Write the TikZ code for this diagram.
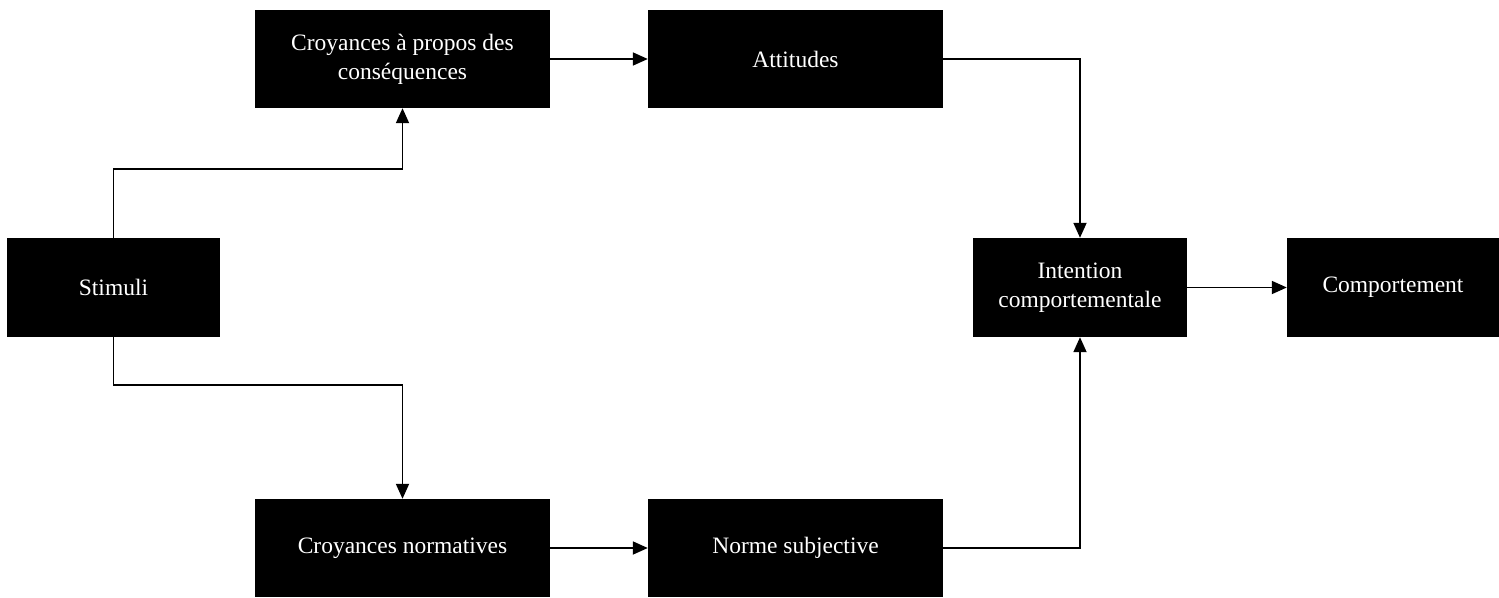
\documentclass[tikz,border=0pt]{standalone}
\usepackage{fontspec}
\setmainfont{Liberation Serif}
\usetikzlibrary{arrows.meta}
\begin{document}
\begin{tikzpicture}[x=1pt,y=-1pt,
  box/.style={rectangle, fill=black, draw=none, text=white, align=center,
    inner sep=0pt, font=\fontsize{23.5}{29}\selectfont},
  conn/.style={draw=black, line width=1.8pt, -{Triangle[length=15pt,width=13pt]}}]
\useasboundingbox (0,0) rectangle (1499,597);
\node[box, minimum width=213pt, minimum height=99pt] (stim) at (113.5,287.5) {Stimuli};
\node[box, minimum width=295pt, minimum height=98pt] (cc) at (402.5,59) {Croyances à propos des\\conséquences};
\node[box, minimum width=295pt, minimum height=98pt] (att) at (795.5,59) {Attitudes};
\node[box, minimum width=214pt, minimum height=99pt] (int) at (1080,287.5) {Intention\\comportementale};
\node[box, minimum width=212pt, minimum height=99pt] (comp) at (1393,287.5) {Comportement};
\node[box, minimum width=295pt, minimum height=98pt] (cn) at (402.5,548) {Croyances normatives};
\node[box, minimum width=295pt, minimum height=98pt] (nor) at (795.5,548) {Norme subjective};
\coordinate (up) at (113.5,169);
\coordinate (down) at (113.5,385);
\draw[conn] (stim.north) -- (up) -| (cc.south);
\draw[conn] (stim.south) -- (down) -| (cn.north);
\draw[conn] (cc.east) -- (att.west);
\draw[conn] (cn.east) -- (nor.west);
\draw[conn] (att.east) -| (int.north);
\draw[conn] (nor.east) -| (int.south);
\draw[conn] (int.east) -- (comp.west);
\end{tikzpicture}
\end{document}
